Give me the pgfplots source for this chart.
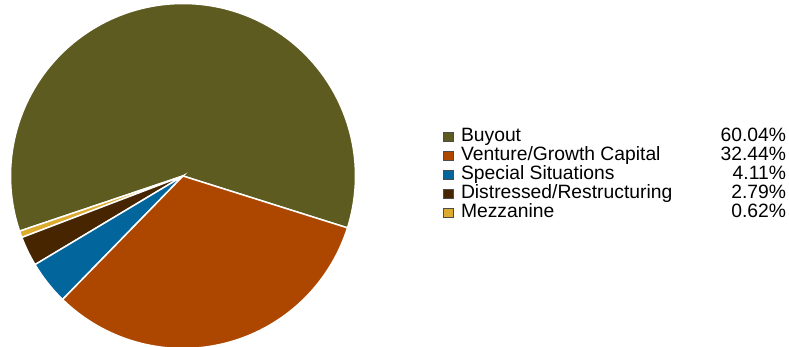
\documentclass[border=0pt]{standalone}
\usepackage{pgfplots}
\pgfplotsset{compat=1.18}
\usepackage{fontspec}
\setmainfont{Liberation Sans}
\definecolor{cBuy}{HTML}{5D5B20}
\definecolor{cVen}{HTML}{AD4700}
\definecolor{cSpe}{HTML}{02669D}
\definecolor{cDis}{HTML}{462500}
\definecolor{cMez}{HTML}{DBAA2E}
% shares in percent
\def\pBuy{60.04}
\def\pVen{32.44}
\def\pSpe{4.11}
\def\pDis{2.79}
\def\pMez{0.62}
\def\cx{183}\def\cy{171}\def\pr{172.5}
\pgfmathsetmacro{\aA}{-17.5}
\pgfmathsetmacro{\aB}{\aA+3.6*\pBuy}
\pgfmathsetmacro{\aC}{\aB+3.6*\pMez}
\pgfmathsetmacro{\aD}{\aC+3.6*\pDis}
\pgfmathsetmacro{\aE}{\aD+3.6*\pSpe}
\pgfmathsetmacro{\aF}{\aE+3.6*\pVen}
\pgfplotsset{sq/.style={legend image code/.code={\draw[fill=#1, draw=black!70, line width=0.5bp] (0bp,-4.5bp) rectangle (9.5bp,5bp);}},
  wedge/.style={fill=#1, draw=white, line width=1.5bp, samples=120, forget plot}}
\begin{document}
\begin{tikzpicture}
\begin{axis}[width=789bp, height=347bp, scale only axis,
  xmin=0, xmax=789, ymin=0, ymax=347, hide axis, clip=true,
  legend cell align=left,
  legend style={at={(axis description cs:0.5615,0.6326)}, anchor=north west,
    draw=none, fill=none, inner sep=0pt, outer sep=0pt, row sep=0pt, column sep=8bp,
    font=\fontsize{19.3bp}{19bp}\selectfont,
    nodes={inner sep=0pt, outer sep=0pt, text height=13.8bp, text depth=5.2bp}}]
\addplot[wedge=cBuy, domain=\aA:\aB] ({\cx+\pr*cos(x)},{\cy+\pr*sin(x)}) -- (axis cs:\cx,\cy) -- cycle;
\addplot[wedge=cMez, domain=\aB:\aC] ({\cx+\pr*cos(x)},{\cy+\pr*sin(x)}) -- (axis cs:\cx,\cy) -- cycle;
\addplot[wedge=cDis, domain=\aC:\aD] ({\cx+\pr*cos(x)},{\cy+\pr*sin(x)}) -- (axis cs:\cx,\cy) -- cycle;
\addplot[wedge=cSpe, domain=\aD:\aE] ({\cx+\pr*cos(x)},{\cy+\pr*sin(x)}) -- (axis cs:\cx,\cy) -- cycle;
\addplot[wedge=cVen, domain=\aE:\aF] ({\cx+\pr*cos(x)},{\cy+\pr*sin(x)}) -- (axis cs:\cx,\cy) -- cycle;
\addlegendimage{sq=cBuy}\addlegendentry{\makebox[325bp]{Buyout\hfill 60.04\%}}
\addlegendimage{sq=cVen}\addlegendentry{\makebox[325bp]{Venture/Growth Capital\hfill 32.44\%}}
\addlegendimage{sq=cSpe}\addlegendentry{\makebox[325bp]{Special Situations\hfill 4.11\%}}
\addlegendimage{sq=cDis}\addlegendentry{\makebox[325bp]{Distressed/Restructuring\hfill 2.79\%}}
\addlegendimage{sq=cMez}\addlegendentry{\makebox[325bp]{Mezzanine\hfill 0.62\%}}
\end{axis}
\pgfresetboundingbox
\path[use as bounding box] (current axis.south west) rectangle (current axis.north east);
\end{tikzpicture}
\end{document}
